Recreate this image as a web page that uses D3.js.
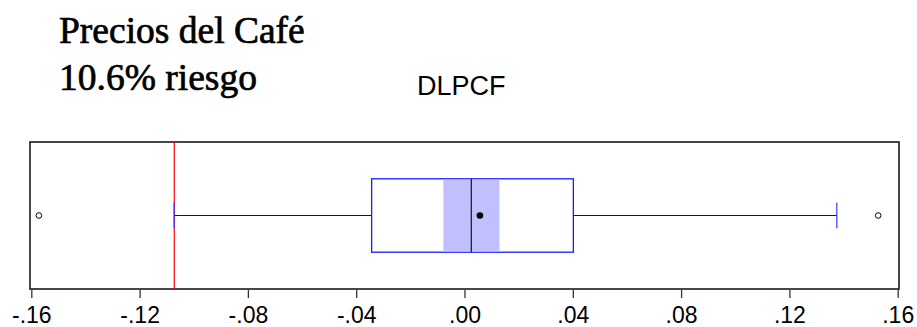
<!DOCTYPE html>
<html><head><meta charset="utf-8">
<script src="https://cdn.jsdelivr.net/npm/d3@7"></script>
<style>html,body{margin:0;padding:0;background:#fff;}svg{display:block;}</style>
</head><body>
<script>
const titleLines = ["Precios del Café", "10.6% riesgo"];
const seriesName = ["DLPCF"];
const tickValues = [-0.16, -0.12, -0.08, -0.04, 0.00, 0.04, 0.08, 0.12, 0.16];
const tickLabels = ["-.16", "-.12", "-.08", "-.04", ".00", ".04", ".08", ".12", ".16"];
const boxStats = [{ name: "DLPCF", whiskerLow: -0.1072, q1: -0.0343, median: 0.0025, q3: 0.0402, whiskerHigh: 0.1375, mean: 0.0057, ciLow: -0.0078, ciHigh: 0.0129 }];
const outliers = [-0.1572, 0.1528];
const riskLine = [-0.1072];

const W = 917, H = 327;
const svg = d3.select("body").append("svg").attr("width", W).attr("height", H);

const frame = { left: 30, right: 899, top: 142, bottom: 289 };
const x = d3.scaleLinear().domain([-0.16, 0.16]).range([31.3, 897.7]);
const y = d3.scaleBand().domain(boxStats.map(d => d.name)).range([frame.top, frame.bottom]).paddingInner(0).paddingOuter(0);

// titles
svg.selectAll("text.title").data(titleLines).enter().append("text")
  .attr("class", "title")
  .attr("x", 59).attr("y", (d, i) => 42.5 + i * 47.7)
  .attr("font-family", "'Liberation Serif', 'Times New Roman', serif")
  .attr("font-size", 37.5).attr("fill", "#000")
  .attr("stroke", "#000").attr("stroke-width", 0.7)
  .text(d => d);

svg.append("text").attr("x", 417).attr("y", 95)
  .attr("font-family", "'Liberation Sans', Arial, sans-serif")
  .attr("font-size", 27).attr("fill", "#000").text(seriesName[0]);

// frame
svg.append("rect").attr("x", frame.left).attr("y", frame.top)
  .attr("width", frame.right - frame.left).attr("height", frame.bottom - frame.top)
  .attr("fill", "none").attr("stroke", "#1a1a1a").attr("stroke-width", 1.6);

// axis
const axis = d3.axisBottom(x).tickValues(tickValues).tickFormat((d, i) => tickLabels[i]).tickSize(8).tickPadding(9);
const gAxis = svg.append("g").attr("transform", `translate(0,${frame.bottom + 1})`).call(axis);
gAxis.select(".domain").remove();
gAxis.selectAll(".tick line").attr("stroke", "#333").attr("stroke-width", 1.3);
gAxis.selectAll(".tick text").attr("font-family", "'Liberation Sans', Arial, sans-serif").attr("font-size", 23).attr("fill", "#000");

// red risk line
svg.selectAll("line.risk").data(riskLine).enter().append("line")
  .attr("x1", d => x(d)).attr("x2", d => x(d))
  .attr("y1", frame.top).attr("y2", frame.bottom)
  .attr("stroke", "#ff0000").attr("stroke-width", 1.2);

boxStats.forEach(s => {
  const cy = y(s.name) + y.bandwidth() / 2;
  const bh = 73.4, ch = 25.6;
  const g = svg.append("g");
  g.append("line").attr("x1", x(s.whiskerLow)).attr("x2", x(s.q1)).attr("y1", cy).attr("y2", cy)
    .attr("stroke", "#0000dd").attr("stroke-width", 1.2);
  g.append("line").attr("x1", x(s.q3)).attr("x2", x(s.whiskerHigh)).attr("y1", cy).attr("y2", cy)
    .attr("stroke", "#0000dd").attr("stroke-width", 1.2);
  [s.whiskerLow, s.whiskerHigh].forEach(v => {
    g.append("line").attr("x1", x(v)).attr("x2", x(v)).attr("y1", cy - ch / 2).attr("y2", cy + ch / 2)
      .attr("stroke", "#3333ff").attr("stroke-opacity", 0.75).attr("stroke-width", 1.6);
  });
  g.append("rect").attr("x", x(s.q1)).attr("y", cy - bh / 2).attr("width", x(s.q3) - x(s.q1)).attr("height", bh)
    .attr("fill", "#fff").attr("stroke", "#1a1aff").attr("stroke-width", 1.3);
  g.append("rect").attr("x", x(s.ciLow)).attr("y", cy - bh / 2 + 0.7).attr("width", x(s.ciHigh) - x(s.ciLow)).attr("height", bh - 1.4)
    .attr("fill", "#c0c0ff");
  g.append("line").attr("x1", x(s.median)).attr("x2", x(s.median)).attr("y1", cy - bh / 2).attr("y2", cy + bh / 2)
    .attr("stroke", "#000").attr("stroke-width", 1.1);
  g.append("circle").attr("cx", x(s.mean)).attr("cy", cy).attr("r", 3.3).attr("fill", "#000");
  g.selectAll("circle.out").data(outliers).enter().append("circle")
    .attr("class", "out").attr("cx", d => x(d)).attr("cy", cy).attr("r", 2.8)
    .attr("fill", "none").attr("stroke", "#000").attr("stroke-width", 1);
});
</script>
</body></html>
